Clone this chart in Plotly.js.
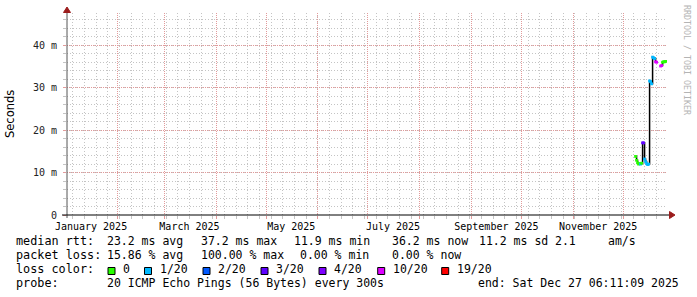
<!DOCTYPE html>
<html>
<head>
<meta charset="utf-8">
<script src="https://cdn.plot.ly/plotly-3.0.1.min.js"></script>
<style>html,body{margin:0;padding:0;background:#fff;}#chart{width:697px;height:297px;}</style>
</head>
<body>
<div id="chart"></div>
<script>
// ---- data ----
var times = [
  '2025-12-08 10:00','2025-12-09 00:24','2025-12-09 14:48','2025-12-10 05:12','2025-12-10 19:36',
  '2025-12-11 10:00','2025-12-12 00:24','2025-12-12 14:48','2025-12-13 05:12','2025-12-13 19:36',
  '2025-12-14 10:00','2025-12-15 00:24','2025-12-15 14:48','2025-12-16 05:12','2025-12-16 19:36',
  '2025-12-17 10:00','2025-12-18 00:24','2025-12-18 14:48','2025-12-19 05:12','2025-12-19 19:36',
  '2025-12-20 10:00','2025-12-21 00:24','2025-12-21 14:48','2025-12-22 05:12','2025-12-22 19:36',
  '2025-12-23 10:00','2025-12-24 00:24','2025-12-24 14:48','2025-12-25 05:12','2025-12-25 19:36',
  '2025-12-26 10:00'
];
// median rtt in milliseconds
var medianMs = [
  13.8, 12.9, 12.3, 12.0, 12.1,
  12.0, 12.2, 17.0, 17.0, 13.2,
  12.6, 12.1, 11.9, 12.0, 31.6,
  31.4, 30.9, 37.2, 37.0, 36.9,
  36.1, 36.0, null, null, null,
  35.1, 35.2, 36.0, 36.1, 36.1,
  36.2
];
// lost pings out of 20
var lossCount = [
  0, 0, 0, 0, 0,
  1, 0, 3, 3, 1,
  1, 1, 1, 1, 1,
  1, 1, 1, 1, 1,
  10, 10, 20, 20, 20,
  10, 10, 0, 0, 0,
  0
];
var lossLevels = [0, 1, 2, 3, 4, 10, 19];
var lossLabels = ['0', '1/20', '2/20', '3/20', '4/20', '10/20', '19/20'];
var lossColors = ['#26ff00', '#00b8ff', '#0059ff', '#5e00ff', '#7e00ff', '#dd00ff', '#ff0000'];

var yTickVals = [0, 10, 20, 30, 40];
var yTickText = ['0', '10 m', '20 m', '30 m', '40 m'];
var monthStarts = ['2025-02-01','2025-03-01','2025-04-01','2025-05-01','2025-06-01','2025-07-01',
                   '2025-08-01','2025-09-01','2025-10-01','2025-11-01','2025-12-01'];
var monthLabelDates = ['2025-01-16','2025-03-16','2025-05-16','2025-07-16','2025-09-16','2025-11-16'];
var monthLabels = ['January 2025','March 2025','May 2025','July 2025','September 2025','November 2025'];

var rttLabel = 'median rtt:';
var rttStats = ['23.2 ms avg', '37.2 ms max', '11.9 ms min', '36.2 ms now', '11.2 ms sd', '2.1', 'am/s'];
var lossLabel = 'packet loss:';
var lossStats = ['15.86 % avg', '100.00 % max', '0.00 % min', '0.00 % now'];
var colorLabel = 'loss color:';
var probeLabel = 'probe:';
var probeText = '20 ICMP Echo Pings (56 Bytes) every 300s';
var endText = 'end: Sat Dec 27 06:11:09 2025';
var yTitle = 'Seconds';
var watermark = 'RRDTOOL / TOBI OETIKER';

// ---- build ----
var yVals = medianMs.map(function (v) { return v === null ? null : v / 1000; });
function colorFor(n) {
  var c = lossColors[0];
  for (var i = 0; i < lossLevels.length; i++) if (n >= lossLevels[i]) c = lossColors[i];
  return c;
}
var markerColors = lossCount.map(colorFor);

var L = 67, R = 667, T = 13, B = 215;
function px(x) { return (x - L) / (R - L); }
function py(y) { return (B - y) / (B - T); }
function nb(s) { return s.replace(/ /g, '\u00a0'); }

var mono = 'DejaVu Sans Mono';
var annotations = [];
function txt(x, y, s, size) {
  annotations.push({xref: 'paper', yref: 'paper', x: px(x), y: py(y), text: nb(s), showarrow: false,
    xanchor: 'left', yanchor: 'middle', borderpad: 0, borderwidth: 0,
    font: {family: mono, size: size || 11.5, color: '#000'}});
}
var labelSize = 11.8;
var rttX = [107.3, 201, 294, 391.7, 479, 555, 607.7];
var lossX = [107.3, 201, 300, 392];
txt(16, 241.5, rttLabel, labelSize);
rttStats.forEach(function (s, i) { txt(rttX[i], 241.5, s); });
txt(16, 255, lossLabel, labelSize);
lossStats.forEach(function (s, i) { txt(lossX[i], 255, s); });
txt(16, 269.3, colorLabel, labelSize);
var boxX = [108, 144.5, 203, 261, 319, 377.7, 441.7];
var shapes = [];
lossLabels.forEach(function (s, i) {
  txt(boxX[i] + 15, 269.3, s);
  shapes.push({type: 'rect', xref: 'paper', yref: 'paper',
    x0: px(boxX[i]), x1: px(boxX[i] + 7), y0: py(274.5), y1: py(267.5),
    fillcolor: lossColors[i], line: {color: '#000', width: 1}});
});
txt(16, 282.7, probeLabel, labelSize);
txt(107.3, 282.7, probeText);
txt(478.3, 282.7, endText);

annotations.push({xref: 'paper', yref: 'paper', x: px(10), y: py(114), text: yTitle, showarrow: false,
  textangle: -90, xanchor: 'center', yanchor: 'middle',
  font: {family: 'DejaVu Sans', size: 11.5, color: '#000'}});
annotations.push({xref: 'paper', yref: 'paper', x: px(687), y: py(60), text: nb(watermark), showarrow: false,
  textangle: 90, xanchor: 'center', yanchor: 'middle',
  font: {family: mono, size: 8.3, color: '#b4b4b4'}});

// axis lines and arrows
shapes.push({type: 'line', xref: 'paper', yref: 'paper', x0: px(67), x1: px(67), y0: py(218), y1: py(11),
  line: {color: '#555', width: 1}});
shapes.push({type: 'line', xref: 'paper', yref: 'paper', x0: px(62), x1: px(670), y0: py(215), y1: py(215),
  line: {color: '#000', width: 1}});
shapes.push({type: 'path', xref: 'paper', yref: 'paper',
  path: 'M' + px(67) + ',' + py(7) + ' L' + px(63.5) + ',' + py(12.5) + ' L' + px(70.5) + ',' + py(12.5) + ' Z',
  fillcolor: '#9b1c1c', line: {color: '#9b1c1c', width: 1}});
shapes.push({type: 'path', xref: 'paper', yref: 'paper',
  path: 'M' + px(675) + ',' + py(215) + ' L' + px(669.5) + ',' + py(211.5) + ' L' + px(669.5) + ',' + py(218.5) + ' Z',
  fillcolor: '#9b1c1c', line: {color: '#9b1c1c', width: 1}});

var xRange = ['2025-01-01 14:11:09', '2025-12-27 06:11:09'];

var traces = [
  {x: times, y: yVals, type: 'scatter', mode: 'lines', line: {color: '#000', width: 1.5, shape: 'hv'},
   connectgaps: false, hoverinfo: 'skip'},
  {x: times, y: yVals, type: 'scatter', mode: 'markers',
   marker: {symbol: 'square', size: 2.8, color: markerColors, line: {width: 0}}, hoverinfo: 'skip'},
  // invisible carrier so the month-label axis is drawn
  {x: monthLabelDates, y: monthLabelDates.map(function () { return null; }), xaxis: 'x2', yaxis: 'y',
   type: 'scatter', mode: 'markers', marker: {opacity: 0}, hoverinfo: 'skip'}
];

var layout = {
  width: 697, height: 297,
  margin: {l: L, r: 697 - R, t: T, b: 297 - B, pad: 0},
  paper_bgcolor: '#fff', plot_bgcolor: '#fff',
  showlegend: false,
  xaxis: {type: 'date', range: xRange, tickmode: 'array', tickvals: monthStarts,
    ticktext: monthStarts.map(function () { return ''; }),
    showgrid: true, gridcolor: '#e29a9a', griddash: '1px,1px', gridwidth: 1,
    ticks: 'outside', ticklen: 3, tickcolor: '#e29a9a', zeroline: false, showline: false,
    minor: {tick0: '2025-01-05', dtick: 604800000, showgrid: true, gridcolor: '#c4c4c4', griddash: '1px,2px',
      ticks: 'outside', ticklen: 3, tickcolor: '#c4c4c4'},
    fixedrange: true},
  xaxis2: {type: 'date', overlaying: 'x', anchor: 'y', side: 'bottom', range: xRange,
    tickmode: 'array', tickvals: monthLabelDates, ticktext: monthLabels,
    showgrid: false, zeroline: false, showline: false, ticks: '', ticklabelstandoff: 4,
    tickfont: {family: mono, size: 10, color: '#000'}, fixedrange: true},
  yaxis: {range: [0, 47.6 / 1000], tickmode: 'array', tickvals: yTickVals.map(function (v) { return v / 1000; }),
    ticktext: yTickText, showgrid: true, gridcolor: '#e29a9a', griddash: '1px,1px',
    ticks: 'outside', ticklen: 3, tickcolor: '#e29a9a', ticklabelstandoff: 4,
    tickfont: {family: mono, size: 10, color: '#222'}, zeroline: false, showline: false,
    minor: {dtick: 0.002, showgrid: true, gridcolor: '#c4c4c4', griddash: '1px,2px',
      ticks: 'outside', ticklen: 3, tickcolor: '#c4c4c4'},
    fixedrange: true},
  annotations: annotations,
  shapes: shapes
};

Plotly.newPlot('chart', traces, layout, {staticPlot: true, displayModeBar: false});
</script>
</body>
</html>
